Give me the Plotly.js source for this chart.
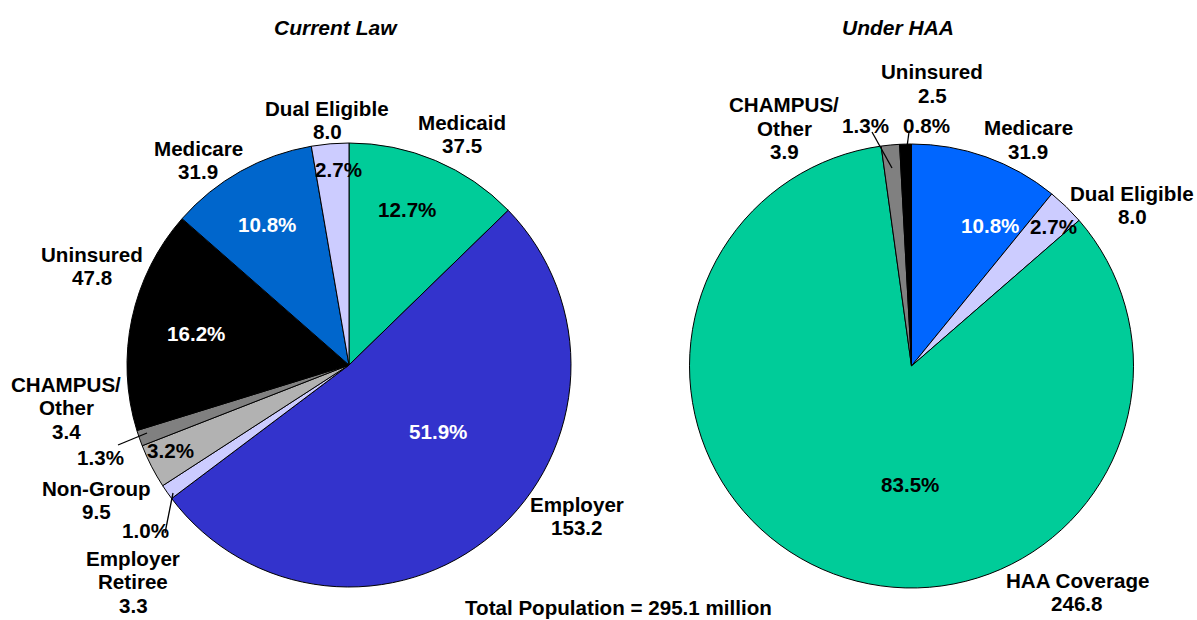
<!DOCTYPE html>
<html><head><meta charset="utf-8">
<script src="https://cdn.plot.ly/plotly-3.0.1.min.js"></script>
<style>html,body{margin:0;padding:0;background:#fff}#chart{width:1197px;height:620px}</style>
</head><body><div id="chart"></div>
<script>
// ---- data ----
const leftLabels = ['Medicaid', 'Employer', 'Employer Retiree', 'Non-Group', 'CHAMPUS/Other', 'Uninsured', 'Medicare', 'Dual Eligible'];
const leftValues = [37.5, 153.2, 3.3, 9.5, 3.4, 47.8, 31.9, 8.0];
const leftPct = ['12.7%', '51.9%', '1.0%', '3.2%', '1.3%', '16.2%', '10.8%', '2.7%'];
const rightLabels = ['Medicare', 'Dual Eligible', 'HAA Coverage', 'CHAMPUS/Other', 'Uninsured'];
const rightValues = [31.9, 8.0, 246.8, 3.9, 2.5];
const rightPct = ['10.8%', '2.7%', '83.5%', '1.3%', '0.8%'];
const totalPopulation = 295.1;
const chartTitles = ['Current Law', 'Under HAA'];

// ---- styling ----
const leftColors = ['#00CC99', '#3333CC', '#CCCCFF', '#B2B2B2', '#808080', '#000000', '#0066CC', '#CCCCFF'];
const rightColors = ['#0066FF', '#CCCCFF', '#00CC99', '#808080', '#000000'];
const leftDisplay = [['Medicaid'], ['Employer'], ['Employer', 'Retiree'], ['Non-Group'], ['CHAMPUS/', 'Other'], ['Uninsured'], ['Medicare'], ['Dual Eligible']];
const rightDisplay = [['Medicare'], ['Dual Eligible'], ['HAA Coverage'], ['CHAMPUS/', 'Other'], ['Uninsured']];
// label positions (px, first line center)
const leftLabelPos = [[462, 122], [577, 504], [133, 558], [96, 488], [66, 384], [92, 254], [198, 148], [327, 108]];
const rightLabelPos = [[1028, 128], [1132, 193], [1077, 580], [784, 105], [932, 72]];
// percent label positions
const leftPctPos = [[407, 210], [438, 431], [145, 530], [170, 450], [100, 457], [196, 333], [267, 224], [338, 169]];
const rightPctPos = [[990, 225], [1053, 226], [910, 484], [865, 125], [926, 125]];
const leftPctColor = ['#000', '#fff', '#000', '#000', '#000', '#fff', '#fff', '#000'];
const rightPctColor = ['#fff', '#000', '#000', '#000', '#000'];

const W = 1197, H = 620;
const FONT = 'Liberation Sans, Arial, sans-serif';
const FS = 20.6, GAP = 23.5;
const px = x => x / W, py = y => 1 - y / H;

function pie(labels, values, colors, cx, cy, r) {
  return {
    type: 'pie', labels: labels, values: values, textinfo: 'none',
    sort: false, direction: 'clockwise', rotation: 0,
    marker: {colors: colors, line: {color: '#000', width: 1}},
    domain: {x: [px(cx - r), px(cx + r)], y: [py(cy + r), py(cy - r)]},
    hoverinfo: 'none', showlegend: false
  };
}

const data = [
  pie(leftLabels, leftValues, leftColors, 349, 365, 222),
  pie(rightLabels, rightValues, rightColors, 911.5, 366, 222)
];

const annotations = [];
function addText(t, x, y, opts) {
  annotations.push(Object.assign({
    text: t, x: px(x), y: py(y), xref: 'paper', yref: 'paper', showarrow: false,
    xanchor: 'center', yanchor: 'middle',
    font: {family: FONT, size: FS, color: '#000', weight: 'bold'}
  }, opts || {}));
}
function addLabels(display, values, pos) {
  display.forEach((lines, i) => {
    const all = lines.concat([values[i].toFixed(1)]);
    all.forEach((t, k) => addText(t, pos[i][0], pos[i][1] + k * GAP));
  });
}
addLabels(leftDisplay, leftValues, leftLabelPos);
addLabels(rightDisplay, rightValues, rightLabelPos);
leftPctPos.forEach((p, i) => addText(leftPct[i], p[0], p[1], {font: {family: FONT, size: FS, color: leftPctColor[i], weight: 'bold'}}));
rightPctPos.forEach((p, i) => addText(rightPct[i], p[0], p[1], {font: {family: FONT, size: FS, color: rightPctColor[i], weight: 'bold'}}));

addText(chartTitles[0], 336, 27, {font: {family: FONT, size: 21, color: '#000', weight: 'bold', style: 'italic'}});
addText(chartTitles[1], 898, 27, {font: {family: FONT, size: 21, color: '#000', weight: 'bold', style: 'italic'}});
addText('Total Population = ' + totalPopulation.toFixed(1) + ' million', 618, 607);

const lineSegs = [[118, 445, 147, 433], [165, 533, 173, 493], [872, 132, 892, 168], [909, 132, 907, 147]];
const shapes = lineSegs.map(s => ({
  type: 'line', xref: 'paper', yref: 'paper',
  x0: px(s[0]), y0: py(s[1]), x1: px(s[2]), y1: py(s[3]),
  line: {color: '#000', width: 1.3}
}));

const layout = {
  width: W, height: H, margin: {l: 0, r: 0, t: 0, b: 0},
  paper_bgcolor: '#fff', plot_bgcolor: '#fff',
  annotations: annotations, shapes: shapes, showlegend: false
};
Plotly.newPlot('chart', data, layout, {displayModeBar: false, staticPlot: true});
</script></body></html>
